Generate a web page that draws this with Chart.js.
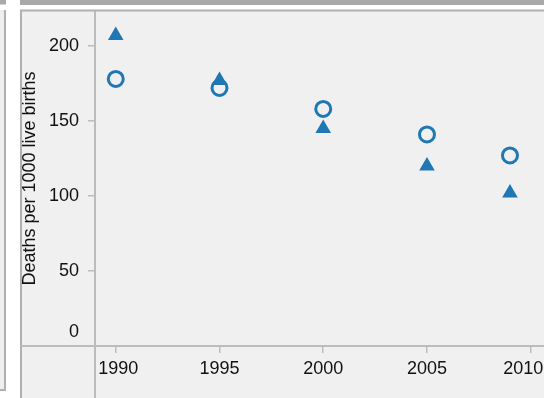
<!DOCTYPE html>
<html>
<head>
<meta charset="utf-8">
<script src="https://cdn.jsdelivr.net/npm/chart.js@4/dist/chart.umd.min.js"></script>
<style>
  html, body { margin: 0; padding: 0; background: #fff; overflow: hidden; }
  #wrap { position: absolute; left: 0; top: 0; width: 544px; height: 398px; }
</style>
</head>
<body>
<div id="wrap"><canvas id="rateChart"></canvas></div>
<script>
// survey years and rates (deaths per 1000 live births)
const years = [1990, 1995, 2000, 2005, 2009];
const triangleRates = [207, 177, 145, 120, 102];
const circleRates = [178, 172, 158, 141, 127];

const xTickValues = [1990, 1995, 2000, 2005, 2010];
const yTickValues = [0, 50, 100, 150, 200];

const BLUE = '#1f77b4';
const AXIS_GRAY = '#bcbcbc';
const TEXT = '#111111';
const FONT = "'Liberation Sans', Arial, sans-serif";

function toPoints(values) {
  return years.map((y, i) => ({ x: y, y: values[i] }));
}

// panel background, header strip and the axis lines that run past the plot area
const framePlugin = {
  id: 'frame',
  beforeDraw(chart) {
    const ctx = chart.ctx;
    const w = chart.width, h = chart.height;
    ctx.save();
    ctx.fillStyle = '#ffffff';
    ctx.fillRect(0, 0, w, h);

    // header strips
    ctx.fillStyle = '#a9a9a9';
    ctx.fillRect(0, 0, 6, 4.5);
    ctx.fillRect(20, 0, w - 20, 5);

    // neighbouring panel on the left
    ctx.fillStyle = '#efefef';
    ctx.fillRect(0, 10, 5, 380);
    ctx.strokeStyle = '#b0b0b0';
    ctx.lineWidth = 2;
    ctx.beginPath();
    ctx.moveTo(5, 10);
    ctx.lineTo(5, 390);
    ctx.lineTo(0, 390);
    ctx.stroke();

    // main panel
    ctx.fillStyle = '#f0f0f0';
    ctx.fillRect(20, 10, w - 20, h - 10);
    ctx.beginPath();
    ctx.moveTo(21, h);
    ctx.lineTo(21, 10.5);
    ctx.lineTo(w, 10.5);
    ctx.stroke();
    ctx.restore();
  },
  beforeDatasetsDraw(chart) {
    const ctx = chart.ctx;
    const a = chart.chartArea;
    ctx.save();
    ctx.strokeStyle = AXIS_GRAY;
    ctx.lineWidth = 2;
    ctx.beginPath();
    ctx.moveTo(a.left, a.top);
    ctx.lineTo(a.left, chart.height);
    ctx.moveTo(21, a.bottom);
    ctx.lineTo(chart.width, a.bottom);
    ctx.stroke();
    ctx.restore();
  }
};

new Chart(document.getElementById('rateChart'), {
  type: 'scatter',
  data: {
    datasets: [
      {
        label: 'Series 1',
        data: toPoints(triangleRates),
        pointStyle: 'triangle',
        pointRadius: 9,
        backgroundColor: BLUE,
        borderColor: BLUE,
        borderWidth: 0
      },
      {
        label: 'Series 2',
        data: toPoints(circleRates),
        pointStyle: 'circle',
        pointRadius: 7.5,
        backgroundColor: 'rgba(0,0,0,0)',
        borderColor: BLUE,
        borderWidth: 3
      }
    ]
  },
  options: {
    responsive: true,
    maintainAspectRatio: false,
    animation: false,
    events: [],
    layout: { autoPadding: false, padding: { left: 0, right: 0, top: 11, bottom: 0 } },
    plugins: {
      legend: { display: false },
      tooltip: { enabled: false }
    },
    scales: {
      x: {
        type: 'linear',
        min: 1989,
        max: 2010.64,
        afterBuildTicks: (scale) => { scale.ticks = xTickValues.map(v => ({ value: v })); },
        afterFit: (scale) => {
          scale.height = 52;
          scale.paddingLeft = 0;
          scale.paddingRight = 0;
        },
        border: { display: false },
        grid: {
          drawOnChartArea: false,
          drawTicks: true,
          tickLength: 7,
          color: AXIS_GRAY,
          lineWidth: 1.5
        },
        ticks: {
          padding: 5,
          maxRotation: 0,
          color: TEXT,
          font: { family: FONT, size: 18 },
          // keep the end labels inside the frame
          callback: (v) => v === 1990 ? ' ' + v : v === 2010 ? v + '   ' : String(v)
        }
      },
      y: {
        type: 'linear',
        min: 0,
        max: 223.3,
        afterBuildTicks: (scale) => { scale.ticks = yTickValues.map(v => ({ value: v })); },
        afterFit: (scale) => {
          scale.width = 95;
          scale.paddingTop = 0;
          scale.paddingBottom = 0;
        },
        border: { display: false },
        grid: {
          drawOnChartArea: false,
          drawTicks: true,
          tickLength: 7,
          color: AXIS_GRAY,
          lineWidth: 1.5
        },
        ticks: {
          padding: 9,
          color: TEXT,
          font: { family: FONT, size: 18, lineHeight: 1.5 },
          // the zero label sits just above the horizontal axis
          callback: (v) => v === 0 ? ['0', ''] : String(v)
        },
        title: {
          display: true,
          text: 'Deaths per 1000 live births',
          color: TEXT,
          font: { family: FONT, size: 18 },
          padding: { top: 19, bottom: 0 }
        }
      }
    }
  },
  plugins: [framePlugin]
});
</script>
</body>
</html>
